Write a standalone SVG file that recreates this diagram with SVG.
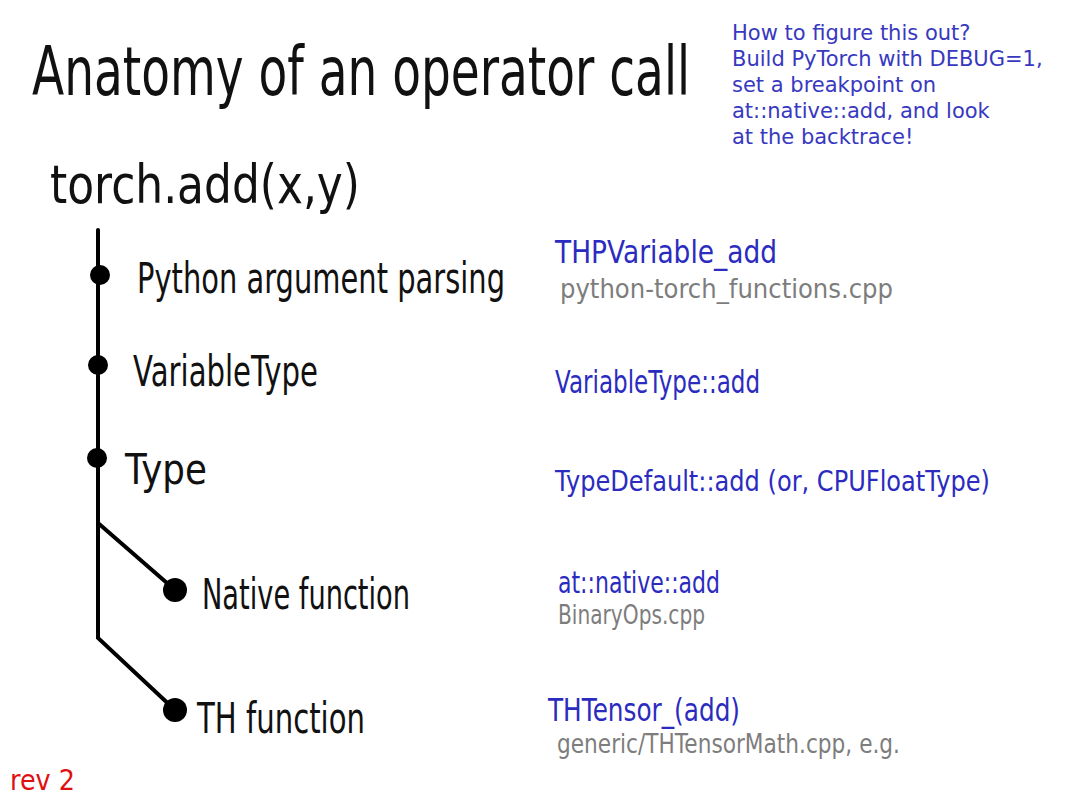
<svg xmlns="http://www.w3.org/2000/svg" width="1080" height="810" viewBox="0 0 1080 810">
<style>
.hw{font-family:"DejaVu Sans","Liberation Sans",sans-serif;fill:#111}
.blue{font-family:"DejaVu Sans","Liberation Sans",sans-serif;fill:#2b2bbf}
.gray{font-family:"DejaVu Sans","Liberation Sans",sans-serif;fill:#7d7d7d}
.note{font-family:"DejaVu Sans","Liberation Sans",sans-serif;fill:#3838c0;font-size:21px}
.line{stroke:#000;stroke-width:4;fill:none;stroke-linecap:round}
.dot{fill:#000}
</style>
<rect width="1080" height="810" fill="#fff"/>
<text class="hw" x="32" y="95" font-size="68" textLength="658" lengthAdjust="spacingAndGlyphs">Anatomy of an operator call</text>
<text class="note"><tspan x="732" y="40">How to figure this out?</tspan><tspan x="732" y="66">Build PyTorch with DEBUG=1,</tspan><tspan x="732" y="92">set a breakpoint on</tspan><tspan x="732" y="118">at::native::add, and look</tspan><tspan x="732" y="144">at the backtrace!</tspan></text>
<g id="root"><text class="hw" x="50" y="203" font-size="54" textLength="310" lengthAdjust="spacingAndGlyphs">torch.add(x,y)</text></g>
<g id="connectors">
<path class="line" d="M98 230 L98 638 L175 710"/>
<path class="line" d="M98 523 L175 590"/>
</g>
<g id="python">
<circle class="dot" cx="100" cy="275" r="10"/>
<text class="hw" x="137" y="293" font-size="42" textLength="368" lengthAdjust="spacingAndGlyphs">Python argument parsing</text>
<text class="blue" x="555" y="263" font-size="32" textLength="222" lengthAdjust="spacingAndGlyphs">THPVariable_add</text>
<text class="gray" x="560" y="298" font-size="26" textLength="333" lengthAdjust="spacingAndGlyphs">python-torch_functions.cpp</text>
</g>
<g id="variabletype">
<circle class="dot" cx="98" cy="365" r="10"/>
<text class="hw" x="133" y="386" font-size="42" textLength="185" lengthAdjust="spacingAndGlyphs">VariableType</text>
<text class="blue" x="555" y="393" font-size="32" textLength="205" lengthAdjust="spacingAndGlyphs">VariableType::add</text>
</g>
<g id="type">
<circle class="dot" cx="97" cy="458" r="10"/>
<text class="hw" x="125" y="484" font-size="42" textLength="82" lengthAdjust="spacingAndGlyphs">Type</text>
<text class="blue" x="555" y="491" font-size="28" textLength="435" lengthAdjust="spacingAndGlyphs">TypeDefault::add (or, CPUFloatType)</text>
</g>
<g id="native">
<circle class="dot" cx="175" cy="590" r="12"/>
<text class="hw" x="202" y="609" font-size="42" textLength="208" lengthAdjust="spacingAndGlyphs">Native function</text>
<text class="blue" x="558" y="593" font-size="30" textLength="162" lengthAdjust="spacingAndGlyphs">at::native::add</text>
<text class="gray" x="558" y="624" font-size="26" textLength="147" lengthAdjust="spacingAndGlyphs">BinaryOps.cpp</text>
</g>
<g id="th">
<circle class="dot" cx="175" cy="710" r="12"/>
<text class="hw" x="197" y="733" font-size="42" textLength="168" lengthAdjust="spacingAndGlyphs">TH function</text>
<text class="blue" x="548" y="721" font-size="32" textLength="192" lengthAdjust="spacingAndGlyphs">THTensor_(add)</text>
<text class="gray" x="557" y="753" font-size="26" textLength="343" lengthAdjust="spacingAndGlyphs">generic/THTensorMath.cpp, e.g.</text>
</g>
<text x="10" y="790" font-family="DejaVu Sans, sans-serif" font-size="28" fill="#e01010" textLength="65" lengthAdjust="spacingAndGlyphs">rev 2</text>
</svg>
